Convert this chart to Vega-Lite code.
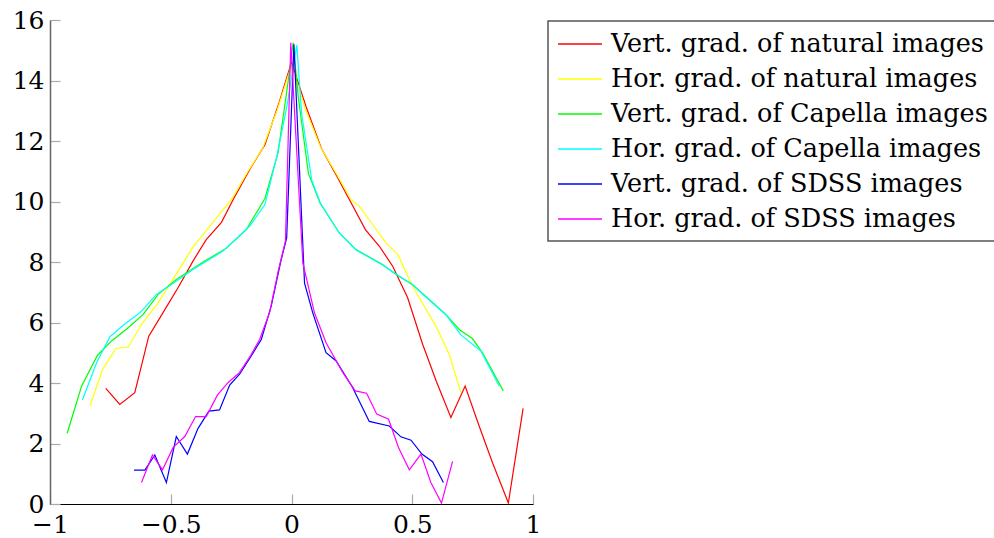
{
  "$schema": "https://vega.github.io/schema/vega-lite/v6.json",
  "width": 483,
  "height": 484,
  "autosize": {"type": "none"},
  "padding": {"left": 50, "top": 20, "right": 461, "bottom": 34},
  "background": "white",
  "config": {"view": {"stroke": null}, "font": "DejaVu Serif", "legend": {"strokeWidth": 1.5}},
  "datasets": {
    "d": [
      {"series": "Vert. grad. of natural images", "x": -0.769, "y": 3.82},
      {"series": "Vert. grad. of natural images", "x": -0.711, "y": 3.29},
      {"series": "Vert. grad. of natural images", "x": -0.649, "y": 3.68},
      {"series": "Vert. grad. of natural images", "x": -0.591, "y": 5.55},
      {"series": "Vert. grad. of natural images", "x": -0.53, "y": 6.35},
      {"series": "Vert. grad. of natural images", "x": -0.47, "y": 7.15},
      {"series": "Vert. grad. of natural images", "x": -0.408, "y": 8.03},
      {"series": "Vert. grad. of natural images", "x": -0.353, "y": 8.74},
      {"series": "Vert. grad. of natural images", "x": -0.29, "y": 9.31},
      {"series": "Vert. grad. of natural images", "x": -0.242, "y": 10.06},
      {"series": "Vert. grad. of natural images", "x": -0.17, "y": 11.1},
      {"series": "Vert. grad. of natural images", "x": -0.11, "y": 11.88},
      {"series": "Vert. grad. of natural images", "x": -0.05, "y": 13.3},
      {"series": "Vert. grad. of natural images", "x": 0.0, "y": 14.6},
      {"series": "Vert. grad. of natural images", "x": 0.06, "y": 13.14},
      {"series": "Vert. grad. of natural images", "x": 0.123, "y": 11.77},
      {"series": "Vert. grad. of natural images", "x": 0.18, "y": 10.95},
      {"series": "Vert. grad. of natural images", "x": 0.24, "y": 10.06},
      {"series": "Vert. grad. of natural images", "x": 0.306, "y": 9.07},
      {"series": "Vert. grad. of natural images", "x": 0.364, "y": 8.52},
      {"series": "Vert. grad. of natural images", "x": 0.419, "y": 7.86},
      {"series": "Vert. grad. of natural images", "x": 0.481, "y": 6.82},
      {"series": "Vert. grad. of natural images", "x": 0.543, "y": 5.28},
      {"series": "Vert. grad. of natural images", "x": 0.6, "y": 4.05},
      {"series": "Vert. grad. of natural images", "x": 0.66, "y": 2.86},
      {"series": "Vert. grad. of natural images", "x": 0.719, "y": 3.9},
      {"series": "Vert. grad. of natural images", "x": 0.777, "y": 2.58},
      {"series": "Vert. grad. of natural images", "x": 0.832, "y": 1.37},
      {"series": "Vert. grad. of natural images", "x": 0.898, "y": 0.03},
      {"series": "Vert. grad. of natural images", "x": 0.959, "y": 3.16},

      {"series": "Hor. grad. of natural images", "x": -0.835, "y": 3.24},
      {"series": "Hor. grad. of natural images", "x": -0.782, "y": 4.45},
      {"series": "Hor. grad. of natural images", "x": -0.727, "y": 5.14},
      {"series": "Hor. grad. of natural images", "x": -0.676, "y": 5.19},
      {"series": "Hor. grad. of natural images", "x": -0.621, "y": 5.94},
      {"series": "Hor. grad. of natural images", "x": -0.552, "y": 6.65},
      {"series": "Hor. grad. of natural images", "x": -0.47, "y": 7.7},
      {"series": "Hor. grad. of natural images", "x": -0.408, "y": 8.49},
      {"series": "Hor. grad. of natural images", "x": -0.339, "y": 9.18},
      {"series": "Hor. grad. of natural images", "x": -0.249, "y": 10.06},
      {"series": "Hor. grad. of natural images", "x": -0.18, "y": 11.0},
      {"series": "Hor. grad. of natural images", "x": -0.12, "y": 11.75},
      {"series": "Hor. grad. of natural images", "x": -0.06, "y": 13.0},
      {"series": "Hor. grad. of natural images", "x": 0.0, "y": 14.5},
      {"series": "Hor. grad. of natural images", "x": 0.06, "y": 13.0},
      {"series": "Hor. grad. of natural images", "x": 0.12, "y": 11.8},
      {"series": "Hor. grad. of natural images", "x": 0.18, "y": 11.0},
      {"series": "Hor. grad. of natural images", "x": 0.247, "y": 10.06},
      {"series": "Hor. grad. of natural images", "x": 0.281, "y": 9.84},
      {"series": "Hor. grad. of natural images", "x": 0.336, "y": 9.24},
      {"series": "Hor. grad. of natural images", "x": 0.391, "y": 8.63},
      {"series": "Hor. grad. of natural images", "x": 0.44, "y": 8.25},
      {"series": "Hor. grad. of natural images", "x": 0.501, "y": 7.2},
      {"series": "Hor. grad. of natural images", "x": 0.598, "y": 5.88},
      {"series": "Hor. grad. of natural images", "x": 0.653, "y": 4.95},
      {"series": "Hor. grad. of natural images", "x": 0.701, "y": 3.69},

      {"series": "Vert. grad. of Capella images", "x": -0.929, "y": 2.34},
      {"series": "Vert. grad. of Capella images", "x": -0.869, "y": 3.9},
      {"series": "Vert. grad. of Capella images", "x": -0.804, "y": 4.91},
      {"series": "Vert. grad. of Capella images", "x": -0.745, "y": 5.39},
      {"series": "Vert. grad. of Capella images", "x": -0.68, "y": 5.8},
      {"series": "Vert. grad. of Capella images", "x": -0.614, "y": 6.27},
      {"series": "Vert. grad. of Capella images", "x": -0.552, "y": 6.93},
      {"series": "Vert. grad. of Capella images", "x": -0.477, "y": 7.42},
      {"series": "Vert. grad. of Capella images", "x": -0.366, "y": 8.0},
      {"series": "Vert. grad. of Capella images", "x": -0.27, "y": 8.45},
      {"series": "Vert. grad. of Capella images", "x": -0.187, "y": 9.07},
      {"series": "Vert. grad. of Capella images", "x": -0.11, "y": 10.1},
      {"series": "Vert. grad. of Capella images", "x": -0.056, "y": 11.6},
      {"series": "Vert. grad. of Capella images", "x": -0.015, "y": 13.9},
      {"series": "Vert. grad. of Capella images", "x": 0.007, "y": 15.25},
      {"series": "Vert. grad. of Capella images", "x": 0.028, "y": 13.46},
      {"series": "Vert. grad. of Capella images", "x": 0.07, "y": 10.93},
      {"series": "Vert. grad. of Capella images", "x": 0.118, "y": 9.95},
      {"series": "Vert. grad. of Capella images", "x": 0.198, "y": 8.96},
      {"series": "Vert. grad. of Capella images", "x": 0.267, "y": 8.41},
      {"series": "Vert. grad. of Capella images", "x": 0.377, "y": 7.92},
      {"series": "Vert. grad. of Capella images", "x": 0.433, "y": 7.59},
      {"series": "Vert. grad. of Capella images", "x": 0.501, "y": 7.26},
      {"series": "Vert. grad. of Capella images", "x": 0.57, "y": 6.76},
      {"series": "Vert. grad. of Capella images", "x": 0.639, "y": 6.27},
      {"series": "Vert. grad. of Capella images", "x": 0.694, "y": 5.77},
      {"series": "Vert. grad. of Capella images", "x": 0.749, "y": 5.47},
      {"series": "Vert. grad. of Capella images", "x": 0.791, "y": 5.0},
      {"series": "Vert. grad. of Capella images", "x": 0.877, "y": 3.74},

      {"series": "Hor. grad. of Capella images", "x": -0.866, "y": 3.44},
      {"series": "Hor. grad. of Capella images", "x": -0.807, "y": 4.67},
      {"series": "Hor. grad. of Capella images", "x": -0.752, "y": 5.53},
      {"series": "Hor. grad. of Capella images", "x": -0.69, "y": 5.95},
      {"series": "Hor. grad. of Capella images", "x": -0.628, "y": 6.32},
      {"series": "Hor. grad. of Capella images", "x": -0.559, "y": 6.93},
      {"series": "Hor. grad. of Capella images", "x": -0.48, "y": 7.35},
      {"series": "Hor. grad. of Capella images", "x": -0.408, "y": 7.75},
      {"series": "Hor. grad. of Capella images", "x": -0.284, "y": 8.36},
      {"series": "Hor. grad. of Capella images", "x": -0.174, "y": 9.18},
      {"series": "Hor. grad. of Capella images", "x": -0.11, "y": 9.9},
      {"series": "Hor. grad. of Capella images", "x": -0.061, "y": 11.48},
      {"series": "Hor. grad. of Capella images", "x": -0.02, "y": 13.1},
      {"series": "Hor. grad. of Capella images", "x": 0.022, "y": 15.17},
      {"series": "Hor. grad. of Capella images", "x": 0.042, "y": 12.9},
      {"series": "Hor. grad. of Capella images", "x": 0.084, "y": 10.7},
      {"series": "Hor. grad. of Capella images", "x": 0.12, "y": 9.94},
      {"series": "Hor. grad. of Capella images", "x": 0.198, "y": 8.96},
      {"series": "Hor. grad. of Capella images", "x": 0.267, "y": 8.4},
      {"series": "Hor. grad. of Capella images", "x": 0.377, "y": 7.9},
      {"series": "Hor. grad. of Capella images", "x": 0.5, "y": 7.25},
      {"series": "Hor. grad. of Capella images", "x": 0.64, "y": 6.25},
      {"series": "Hor. grad. of Capella images", "x": 0.7, "y": 5.6},
      {"series": "Hor. grad. of Capella images", "x": 0.784, "y": 5.06},
      {"series": "Hor. grad. of Capella images", "x": 0.86, "y": 3.9},

      {"series": "Vert. grad. of SDSS images", "x": -0.652, "y": 1.12},
      {"series": "Vert. grad. of SDSS images", "x": -0.607, "y": 1.12},
      {"series": "Vert. grad. of SDSS images", "x": -0.566, "y": 1.62},
      {"series": "Vert. grad. of SDSS images", "x": -0.518, "y": 0.71},
      {"series": "Vert. grad. of SDSS images", "x": -0.477, "y": 2.23},
      {"series": "Vert. grad. of SDSS images", "x": -0.431, "y": 1.65},
      {"series": "Vert. grad. of SDSS images", "x": -0.387, "y": 2.5},
      {"series": "Vert. grad. of SDSS images", "x": -0.342, "y": 3.07},
      {"series": "Vert. grad. of SDSS images", "x": -0.298, "y": 3.11},
      {"series": "Vert. grad. of SDSS images", "x": -0.256, "y": 3.93},
      {"series": "Vert. grad. of SDSS images", "x": -0.215, "y": 4.29},
      {"series": "Vert. grad. of SDSS images", "x": -0.17, "y": 4.85},
      {"series": "Vert. grad. of SDSS images", "x": -0.125, "y": 5.44},
      {"series": "Vert. grad. of SDSS images", "x": -0.084, "y": 6.54},
      {"series": "Vert. grad. of SDSS images", "x": -0.045, "y": 8.0},
      {"series": "Vert. grad. of SDSS images", "x": -0.02, "y": 8.8},
      {"series": "Vert. grad. of SDSS images", "x": 0.01, "y": 15.2},
      {"series": "Vert. grad. of SDSS images", "x": 0.054, "y": 7.3},
      {"series": "Vert. grad. of SDSS images", "x": 0.088, "y": 6.32},
      {"series": "Vert. grad. of SDSS images", "x": 0.143, "y": 5.0},
      {"series": "Vert. grad. of SDSS images", "x": 0.185, "y": 4.73},
      {"series": "Vert. grad. of SDSS images", "x": 0.253, "y": 3.85},
      {"series": "Vert. grad. of SDSS images", "x": 0.322, "y": 2.73},
      {"series": "Vert. grad. of SDSS images", "x": 0.405, "y": 2.58},
      {"series": "Vert. grad. of SDSS images", "x": 0.453, "y": 2.22},
      {"series": "Vert. grad. of SDSS images", "x": 0.495, "y": 2.11},
      {"series": "Vert. grad. of SDSS images", "x": 0.54, "y": 1.65},
      {"series": "Vert. grad. of SDSS images", "x": 0.584, "y": 1.4},
      {"series": "Vert. grad. of SDSS images", "x": 0.629, "y": 0.71},

      {"series": "Hor. grad. of SDSS images", "x": -0.621, "y": 0.71},
      {"series": "Hor. grad. of SDSS images", "x": -0.576, "y": 1.62},
      {"series": "Hor. grad. of SDSS images", "x": -0.534, "y": 1.13},
      {"series": "Hor. grad. of SDSS images", "x": -0.49, "y": 1.87},
      {"series": "Hor. grad. of SDSS images", "x": -0.442, "y": 2.23},
      {"series": "Hor. grad. of SDSS images", "x": -0.397, "y": 2.89},
      {"series": "Hor. grad. of SDSS images", "x": -0.353, "y": 2.89},
      {"series": "Hor. grad. of SDSS images", "x": -0.307, "y": 3.6},
      {"series": "Hor. grad. of SDSS images", "x": -0.263, "y": 4.01},
      {"series": "Hor. grad. of SDSS images", "x": -0.215, "y": 4.35},
      {"series": "Hor. grad. of SDSS images", "x": -0.17, "y": 4.9},
      {"series": "Hor. grad. of SDSS images", "x": -0.132, "y": 5.44},
      {"series": "Hor. grad. of SDSS images", "x": -0.091, "y": 6.32},
      {"series": "Hor. grad. of SDSS images", "x": -0.055, "y": 7.7},
      {"series": "Hor. grad. of SDSS images", "x": -0.025, "y": 8.7},
      {"series": "Hor. grad. of SDSS images", "x": -0.003, "y": 15.25},
      {"series": "Hor. grad. of SDSS images", "x": 0.047, "y": 7.97},
      {"series": "Hor. grad. of SDSS images", "x": 0.095, "y": 6.32},
      {"series": "Hor. grad. of SDSS images", "x": 0.143, "y": 5.33},
      {"series": "Hor. grad. of SDSS images", "x": 0.212, "y": 4.35},
      {"series": "Hor. grad. of SDSS images", "x": 0.264, "y": 3.74},
      {"series": "Hor. grad. of SDSS images", "x": 0.311, "y": 3.66},
      {"series": "Hor. grad. of SDSS images", "x": 0.353, "y": 2.97},
      {"series": "Hor. grad. of SDSS images", "x": 0.402, "y": 2.8},
      {"series": "Hor. grad. of SDSS images", "x": 0.443, "y": 1.87},
      {"series": "Hor. grad. of SDSS images", "x": 0.488, "y": 1.13},
      {"series": "Hor. grad. of SDSS images", "x": 0.536, "y": 1.65},
      {"series": "Hor. grad. of SDSS images", "x": 0.577, "y": 0.71},
      {"series": "Hor. grad. of SDSS images", "x": 0.621, "y": 0.03},
      {"series": "Hor. grad. of SDSS images", "x": 0.667, "y": 1.41}
    ]
  },
  "data": {"name": "d"},
  "mark": {"type": "line", "strokeWidth": 1.2},
  "encoding": {
    "x": {
      "field": "x", "type": "quantitative",
      "scale": {"domain": [-1, 1], "nice": false, "zero": false},
      "axis": {
        "title": null, "values": [-1, -0.5, 0, 0.5, 1], "format": "~g", "grid": false,
        "domainColor": "#000000", "domainWidth": 1.2,
        "tickColor": "#aaaaaa", "tickSize": -10, "tickWidth": 1.2,
        "labelFont": "DejaVu Serif", "labelFontSize": 25, "labelColor": "#000000",
        "labelPadding": 18, "labelFlush": false
      }
    },
    "y": {
      "field": "y", "type": "quantitative",
      "scale": {"domain": [0, 16], "nice": false},
      "axis": {
        "title": null, "values": [0, 2, 4, 6, 8, 10, 12, 14, 16], "grid": false,
        "domainColor": "#666666", "domainWidth": 1.5,
        "tickColor": "#aaaaaa", "tickSize": -10, "tickWidth": 1.2,
        "labelFont": "DejaVu Serif", "labelFontSize": 25, "labelColor": "#000000",
        "labelPadding": 16, "labelFlush": false
      }
    },
    "color": {
      "field": "series", "type": "nominal",
      "scale": {
        "domain": ["Vert. grad. of natural images", "Hor. grad. of natural images", "Vert. grad. of Capella images", "Hor. grad. of Capella images", "Vert. grad. of SDSS images", "Hor. grad. of SDSS images"],
        "range": ["#ff0000", "#ffff00", "#00ff00", "#00ffff", "#0000ff", "#ff00ff"]
      },
      "legend": {
        "title": null, "orient": "none", "legendX": 498, "legendY": 1,
        "strokeColor": "#555555", "fillColor": "white",
        "padding": 8, "symbolType": "M-1.57,0H1.57", "symbolSize": 784, "symbolStrokeWidth": 1.3,
        "symbolOffset": 9,
        "labelFont": "DejaVu Serif", "labelFontSize": 25.5, "labelColor": "#000000",
        "labelOffset": 16, "rowPadding": 6, "labelLimit": 600
      }
    }
  }
}
